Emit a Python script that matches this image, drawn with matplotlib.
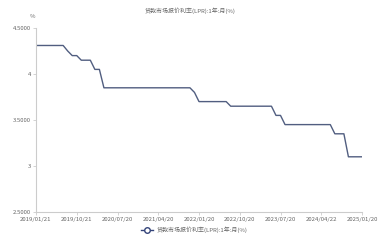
import matplotlib
matplotlib.use("Agg")
import matplotlib.pyplot as plt
from matplotlib.lines import Line2D

plt.rcParams['font.family'] = ['Noto Sans CJK SC', 'DejaVu Sans']

title = "贷款市场报价利率(LPR):1年:月(%)"
series_name = "贷款市场报价利率(LPR):1年:月(%)"

# monthly values, 2019/01 .. 2025/01
values = ([4.31] * 7 + [4.25] + [4.20] * 2 + [4.15] * 3 + [4.05] * 2 +
          [3.85] * 20 + [3.80] + [3.70] * 7 + [3.65] * 10 + [3.55] * 2 +
          [3.45] * 11 + [3.35] * 3 + [3.10] * 4)

tick_labels = ["2019/01/21", "2019/10/21", "2020/07/20", "2021/04/20",
               "2022/01/20", "2022/10/20", "2023/07/20", "2024/04/22",
               "2025/01/20"]
tick_step = 9

y_ticks = [2.5, 3.0, 3.5, 4.0, 4.5]
y_tick_labels = ["2.5000", "3", "3.5000", "4", "4.5000"]

line_color = "#515e80"
legend_color = "#34447a"
text_color = "#666666"

fig = plt.figure(figsize=(3.92, 2.40), dpi=100)
ax = fig.add_axes([36 / 392, 1 - 212 / 240, (362 - 36) / 392, (212 - 28) / 240])

x = list(range(len(values)))
ax.plot(x, values, color=line_color, linewidth=1.0)

ax.set_xlim(0, len(values) - 1)
ax.set_ylim(2.5, 4.5)
ax.set_xticks(list(range(0, len(values), tick_step)))
ax.set_xticklabels(tick_labels)
ax.set_yticks(y_ticks)
ax.set_yticklabels(y_tick_labels)

for side in ["top", "right"]:
    ax.spines[side].set_visible(False)
for side in ["left", "bottom"]:
    ax.spines[side].set_color("#cccccc")
    ax.spines[side].set_linewidth(0.8)
ax.tick_params(axis="both", colors="#cccccc", labelcolor=text_color,
               labelsize=4.3, length=2, width=0.6, pad=1.5)

fig.text(33 / 392, 1 - 17 / 240, "%", fontsize=4.3, color=text_color,
         ha="center", va="center")
fig.text(190 / 392, 1 - 11 / 240, title, fontsize=4.3, color=text_color,
         ha="center", va="center")

handle = Line2D([0], [0], color=legend_color, linewidth=1.0, marker="o",
                markersize=4, markerfacecolor="white",
                markeredgecolor=legend_color, markeredgewidth=1.0)
fig.legend([handle], [series_name], loc="center", bbox_to_anchor=(194 / 392, 1 - 230 / 240),
           frameon=False, fontsize=4.3, labelcolor=text_color,
           handlelength=2.0, handletextpad=0.6)

fig.savefig("out.png", dpi=100, facecolor="white")
